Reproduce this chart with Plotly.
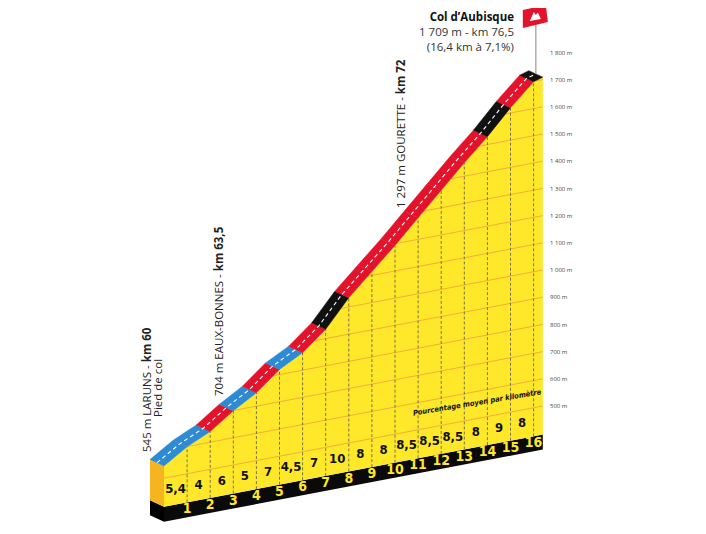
import numpy as np
import plotly.graph_objects as go

# profile of the climb
KM = [0, 1, 2, 3, 4, 5, 6, 7, 8, 9, 10, 11, 12, 13, 14, 15, 16, 16.4]
ELEVATION = [545, 599, 639, 699, 749, 819, 864, 934, 1034, 1114, 1194,
             1279, 1364, 1449, 1529, 1619, 1699, 1709]
GRADIENT_LABELS = ["5,4", "4", "6", "5", "7", "4,5", "7", "10", "8", "8",
                   "8,5", "8,5", "8,5", "8", "9", "8"]
SEGMENT_CLASS = ["low", "low", "mid", "low", "mid", "low", "mid", "high",
                 "mid", "mid", "mid", "mid", "mid", "mid", "high", "mid", "high"]
KM_LABELS = ["1", "2", "3", "4", "5", "6", "7", "8", "9", "10", "11", "12",
             "13", "14", "15", "16"]
ALT_TICKS = [500, 600, 700, 800, 900, 1000, 1100, 1200, 1300, 1400, 1500,
             1600, 1700, 1800]
GRID_LEVELS = [500, 600, 700, 800, 900, 1000, 1100, 1200, 1300, 1400, 1500,
               1600, 1700]

SEGMENT_COLOURS = {"low": "#2E8BD3", "mid": "#E3132C", "high": "#111111"}
YELLOW = "#FFE82A"
SIDE_ORANGE = "#F6B41E"
GRID_ORANGE = "#EFA83A"
NUM_FONT = "Liberation Sans Narrow, DejaVu Sans Condensed, sans-serif"

# drawing geometry, in pixels of the reference picture
W, H = 706, 534
PLOT_LEFT, PLOT_TOP = 8, 8      # where the plot div sits in the page
PX_PER_KM = 23.1
PX_PER_M = 0.272
X0_PX = 164                     # km 0 on the front face
Y500_PX = 406                   # 500 m on the right-hand scale
SHEAR = 4.4 / PX_PER_M          # metres of drop per km towards the left
DEPTH_KM = 14 / PX_PER_KM
DEPTH_M = 6.5 / PX_PER_M
BASE_TOP = 395
BASE_BOT = 340
STRIP_TOP = 500

X_MIN = -(X0_PX - PLOT_LEFT) / PX_PER_KM
X_MAX = X_MIN + W / PX_PER_KM
Y_MAX = 500 + (Y500_PX - PLOT_TOP) / PX_PER_M
Y_MIN = Y_MAX - H / PX_PER_M
END = KM[-1]


def sheared(k, e):
    return e - SHEAR * (END - k)


def at_px(px, py):
    return X_MIN + (px - PLOT_LEFT) / PX_PER_KM, Y_MAX - (py - PLOT_TOP) / PX_PER_M


profile = [sheared(k, e) for k, e in zip(KM, ELEVATION)]

fig = go.Figure()

# black base band and left end faces
fig.add_trace(go.Scatter(
    x=[0, END, END, 0, 0],
    y=[sheared(0, BASE_BOT), sheared(END, BASE_BOT), sheared(END, BASE_TOP),
       sheared(0, BASE_TOP), sheared(0, BASE_BOT)],
    fill="toself", fillcolor="#0a0a0a", line=dict(width=0), mode="lines"))
fig.add_trace(go.Scatter(
    x=[0, -DEPTH_KM, -DEPTH_KM, 0, 0],
    y=[sheared(0, BASE_BOT), sheared(0, BASE_BOT) + DEPTH_M,
       sheared(0, BASE_TOP) + DEPTH_M, sheared(0, BASE_TOP), sheared(0, BASE_BOT)],
    fill="toself", fillcolor="#000000", line=dict(width=0), mode="lines"))
fig.add_trace(go.Scatter(
    x=[0, -DEPTH_KM, -DEPTH_KM, 0, 0],
    y=[sheared(0, BASE_TOP), sheared(0, BASE_TOP) + DEPTH_M,
       profile[0] + DEPTH_M, profile[0], sheared(0, BASE_TOP)],
    fill="toself", fillcolor=SIDE_ORANGE, line=dict(width=0), mode="lines"))

# yellow front face
fig.add_trace(go.Scatter(
    x=[0] + KM + [END, 0],
    y=[sheared(0, BASE_TOP)] + profile + [sheared(END, BASE_TOP), sheared(0, BASE_TOP)],
    fill="toself", fillcolor=YELLOW, line=dict(width=0), mode="lines"))

# altitude grid lines, cut where they meet the profile
gx, gy = [], []
for level in GRID_LEVELS:
    start = float(np.interp(level, ELEVATION, KM)) if level > ELEVATION[0] else 0.0
    gx += [start, END, None]
    gy += [sheared(start, level), sheared(END, level), None]
fig.add_trace(go.Scatter(x=gx, y=gy, mode="lines",
                         line=dict(color=GRID_ORANGE, width=0.9)))

# dashed km lines
vx, vy = [], []
for k, p in zip(KM[1:-1], profile[1:-1]):
    vx += [k, k, None]
    vy += [sheared(k, BASE_TOP), p, None]
fig.add_trace(go.Scatter(x=vx, y=vy, mode="lines",
                         line=dict(color="#7a7448", width=1, dash="3px,2px")))

# road ribbon
for i, cls in enumerate(SEGMENT_CLASS):
    k0, k1 = KM[i], KM[i + 1]
    p0, p1 = profile[i], profile[i + 1]
    colour = SEGMENT_COLOURS[cls]
    fig.add_trace(go.Scatter(
        x=[k0, k1, k1 - DEPTH_KM, k0 - DEPTH_KM, k0],
        y=[p0, p1, p1 + DEPTH_M, p0 + DEPTH_M, p0],
        fill="toself", fillcolor=colour, mode="lines",
        line=dict(color=colour, width=0.5)))
fig.add_trace(go.Scatter(
    x=[k - DEPTH_KM / 2 for k in KM],
    y=[p + DEPTH_M / 2 for p in profile],
    mode="lines", line=dict(color="white", width=1.1, dash="4px,3px")))

# numbers on the front face
mid_km = [k + 0.5 for k in KM[:16]]
fig.add_trace(go.Scatter(
    x=mid_km, y=[sheared(k, (BASE_TOP + STRIP_TOP) / 2) for k in mid_km],
    mode="text", text=GRADIENT_LABELS,
    textfont=dict(family=NUM_FONT, size=13, color="#111111", weight="bold")))
fig.add_trace(go.Scatter(
    x=KM[1:17], y=[sheared(k, (BASE_TOP + BASE_BOT) / 2) for k in KM[1:17]],
    mode="text", text=KM_LABELS,
    textfont=dict(family=NUM_FONT, size=14, color=YELLOW, weight="bold")))

# summit flag on its pole
pole_x = END - DEPTH_KM / 2
pole_base = profile[-1] + DEPTH_M / 2
fx = lambda d: pole_x + d / PX_PER_KM
fy = lambda py: at_px(0, py)[1]
fig.add_trace(go.Scatter(x=[pole_x, pole_x], y=[pole_base, fy(18)],
                         mode="lines", line=dict(color="#9a9a9a", width=1.2)))
fig.add_trace(go.Scatter(
    x=[fx(-13), fx(10), fx(12), fx(-13), fx(-13)],
    y=[fy(10), fy(5), fy(22), fy(28), fy(10)],
    fill="toself", fillcolor="#E3132C", mode="lines", line=dict(width=0)))
fig.add_trace(go.Scatter(
    x=[fx(-6), fx(-2), fx(0), fx(2), fx(5), fx(-6)],
    y=[fy(21), fy(12), fy(15), fy(12.5), fy(19), fy(21)],
    fill="toself", fillcolor="white", mode="lines", line=dict(width=0)))

# texts
label_font = dict(family="Open Sans, sans-serif", size=11.5, color="#222222")
annotations = []


def note(px, py, text, angle=0, xanchor="center", font=None, align="center"):
    x, y = at_px(px, py)
    annotations.append(dict(x=x, y=y, xref="x", yref="y", text=text,
                            showarrow=False, textangle=angle, xanchor=xanchor,
                            yanchor="middle", align=align, font=font or label_font))


note(516, 31,
     "<b><span style='color:#111111'>Col d’Aubisque</span></b><br>"
     "1 709 m - km 76,5<br>(16,4 km à 7,1%)",
     xanchor="right", align="right",
     font=dict(family="Open Sans, sans-serif", size=11.5, color="#333333"))
note(146, 390, "545 m LARUNS - <b>km 60</b>", angle=-90)
note(157, 388, "Pied de col", angle=-90)
note(218, 311, "704 m EAUX-BONNES - <b>km 63,5</b>", angle=-90)
note(400, 134, "1 297 m GOURETTE - <b>km 72</b>", angle=-90)
note(477, 402, "<b><i>Pourcentage moyen par kilomètre</i></b>", angle=-9.5,
     font=dict(family=NUM_FONT, size=7.5, color="#111111"))

fig.update_layout(
    width=W, height=H,
    margin=dict(l=0, r=0, t=0, b=0),
    paper_bgcolor="white", plot_bgcolor="white",
    showlegend=False,
    annotations=annotations,
    xaxis=dict(range=[X_MIN, X_MAX], visible=False, fixedrange=True),
    yaxis=dict(range=[Y_MIN, Y_MAX], showgrid=False, zeroline=False,
               showline=False, ticks="", side="right", anchor="free",
               position=(549 - PLOT_LEFT) / W, automargin=False, fixedrange=True,
               tickvals=ALT_TICKS,
               ticktext=[f"{v:,} m".replace(",", " ") for v in ALT_TICKS],
               tickfont=dict(family="Open Sans, sans-serif", size=6, color="#444444")),
)

fig.write_html("out.html", config={"displayModeBar": False})
